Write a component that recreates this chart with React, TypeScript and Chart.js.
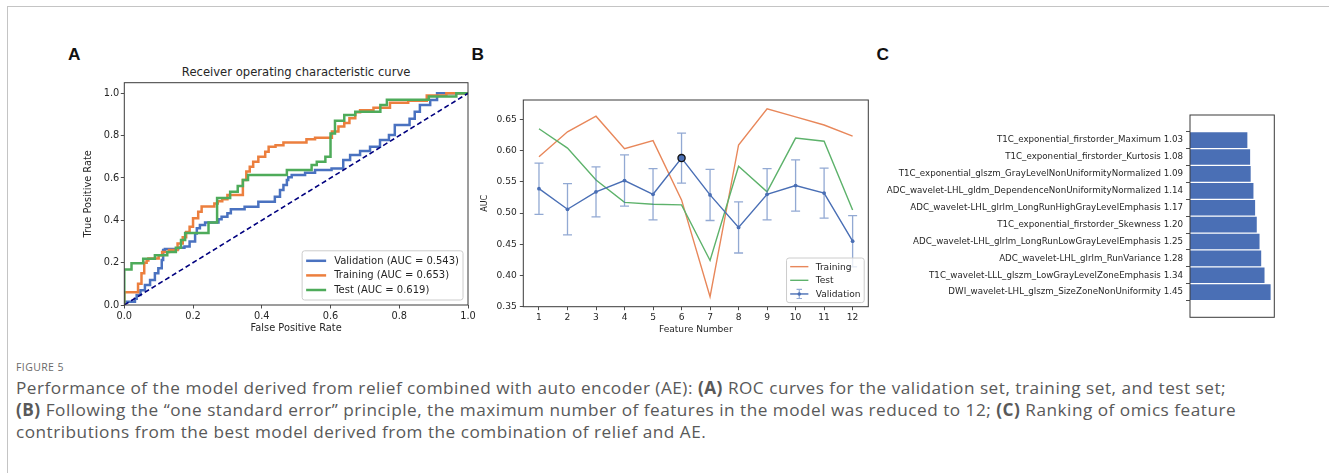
import React, { useEffect, useRef } from "react";
import { Chart, registerables } from "chart.js";
Chart.register(...registerables);

type Pt = [number, number];

// ---------- Panel A: ROC curves (fpr, tpr step points) ----------
const rocValidation: Pt[] = [
  [0, 0], [0.031, 0.015], [0.036, 0.03], [0.047, 0.047], [0.06, 0.07], [0.075, 0.094], [0.089, 0.118],
  [0.099, 0.15], [0.109, 0.173], [0.113, 0.212], [0.118, 0.26], [0.157, 0.265], [0.175, 0.27], [0.19, 0.276],
  [0.206, 0.3], [0.211, 0.338], [0.22, 0.362], [0.235, 0.378], [0.274, 0.39], [0.283, 0.405], [0.3, 0.417],
  [0.31, 0.433], [0.35, 0.452], [0.39, 0.464], [0.438, 0.488], [0.453, 0.511], [0.463, 0.543], [0.473, 0.567],
  [0.477, 0.59], [0.487, 0.603], [0.526, 0.614], [0.555, 0.625], [0.603, 0.638], [0.637, 0.645], [0.657, 0.685],
  [0.686, 0.708], [0.715, 0.727], [0.744, 0.748], [0.77, 0.779], [0.787, 0.803], [0.83, 0.85], [0.845, 0.88],
  [0.86, 0.913], [0.89, 0.945], [0.91, 0.968], [0.94, 1.0], [1, 1],
];
const rocTraining: Pt[] = [
  [0, 0], [0, 0.045], [0.04, 0.06], [0.05, 0.1], [0.058, 0.15], [0.065, 0.2], [0.07, 0.21], [0.1, 0.22],
  [0.11, 0.235], [0.13, 0.25], [0.155, 0.26], [0.17, 0.29], [0.18, 0.32], [0.19, 0.345], [0.2, 0.37],
  [0.215, 0.41], [0.225, 0.44], [0.262, 0.465], [0.272, 0.48], [0.285, 0.49], [0.3, 0.5], [0.345, 0.52],
  [0.355, 0.59], [0.365, 0.63], [0.375, 0.653], [0.39, 0.677], [0.41, 0.7], [0.42, 0.724], [0.44, 0.748],
  [0.463, 0.755], [0.53, 0.767], [0.555, 0.783], [0.604, 0.79], [0.623, 0.82], [0.64, 0.843], [0.655, 0.86],
  [0.672, 0.882], [0.686, 0.91], [0.725, 0.92], [0.773, 0.932], [0.826, 0.955], [0.88, 0.965], [0.937, 0.99],
  [0.975, 1.0], [1, 1],
];
const rocTest: Pt[] = [
  [0, 0], [0, 0.086], [0.021, 0.168], [0.055, 0.197], [0.089, 0.218], [0.125, 0.235], [0.15, 0.25],
  [0.165, 0.27], [0.177, 0.307], [0.245, 0.34], [0.27, 0.39], [0.308, 0.505], [0.33, 0.535], [0.345, 0.562],
  [0.36, 0.59], [0.473, 0.614], [0.545, 0.638], [0.56, 0.661], [0.585, 0.677], [0.6, 0.7], [0.613, 0.81],
  [0.64, 0.87], [0.672, 0.897], [0.745, 0.913], [0.764, 0.945], [0.886, 0.97], [0.966, 0.985], [1, 1],
];
const rocChance: Pt[] = [[0, 0], [1, 1]];
const rocLabels = ["Validation (AUC = 0.543)", "Training (AUC = 0.653)", "Test (AUC = 0.619)"];
const rocTicks = [0, 0.2, 0.4, 0.6, 0.8, 1.0];

// ---------- Panel B: AUC vs feature number ----------
const featureNumbers = [1, 2, 3, 4, 5, 6, 7, 8, 9, 10, 11, 12];
const trainingAuc = [0.59, 0.63, 0.655, 0.603, 0.616, 0.521, 0.366, 0.609, 0.667, 0.654, 0.641, 0.623];
const testAuc = [0.635, 0.604, 0.553, 0.517, 0.514, 0.513, 0.424, 0.575, 0.534, 0.62, 0.615, 0.505];
const validationAuc = [0.539, 0.506, 0.534, 0.552, 0.53, 0.588, 0.529, 0.477, 0.53, 0.544, 0.532, 0.455];
const validationErr = [0.041, 0.041, 0.04, 0.041, 0.041, 0.04, 0.041, 0.041, 0.041, 0.041, 0.04, 0.041];
const bestFeature = 6;
const aucTicks = [0.35, 0.4, 0.45, 0.5, 0.55, 0.6, 0.65];

// ---------- Panel C: feature contributions (top to bottom) ----------
const featureNames = [
  "T1C_exponential_firstorder_Maximum",
  "T1C_exponential_firstorder_Kurtosis",
  "T1C_exponential_glszm_GrayLevelNonUniformityNormalized",
  "ADC_wavelet-LHL_gldm_DependenceNonUniformityNormalized",
  "ADC_wavelet-LHL_glrlm_LongRunHighGrayLevelEmphasis",
  "T1C_exponential_firstorder_Skewness",
  "ADC_wavelet-LHL_glrlm_LongRunLowGrayLevelEmphasis",
  "ADC_wavelet-LHL_glrlm_RunVariance",
  "T1C_wavelet-LLL_glszm_LowGrayLevelZoneEmphasis",
  "DWI_wavelet-LHL_glszm_SizeZoneNonUniformity",
];
const featureScores = [1.03, 1.08, 1.09, 1.14, 1.17, 1.2, 1.25, 1.28, 1.34, 1.45];

// ---------- styling ----------
const FONT = '"DejaVu Sans", sans-serif';
const TXT = "#262626";
const AX = "#3a3a3a";
const A_BLUE = "#4a72c0";
const A_ORANGE = "#ec7f3e";
const A_GREEN = "#4eab5a";
const B_ORANGE = "#e8875a";
const B_GREEN = "#5db26b";
const B_BLUE = "#4a6fb5";

const toXY = (pts: Pt[]) => pts.map(([x, y]) => ({ x, y }));

const framePlugin = {
  id: "frame",
  afterDatasetsDraw(chart: any) {
    const { ctx, chartArea: a } = chart;
    ctx.save();
    ctx.strokeStyle = AX;
    ctx.lineWidth = 1;
    ctx.strokeRect(a.left, a.top, a.right - a.left, a.bottom - a.top);
    ctx.restore();
  },
};

const boxLegend = {
  id: "boxLegend",
  afterDraw(chart: any, _args: any, opts: any) {
    const items = opts.items as any[];
    if (!items) return;
    const fs = opts.fontSize as number;
    const { ctx, chartArea: a } = chart;
    ctx.save();
    ctx.font = `${fs}px ${FONT}`;
    const tw = Math.max(...items.map((i) => ctx.measureText(i.label).width));
    const pad = 0.4 * fs, hl = 2 * fs, gap = 0.8 * fs, row = opts.rowSpacing * fs;
    const w = pad + hl + gap + tw + pad;
    const h = (items.length - 1) * row + 2 * opts.vpad * fs;
    const right = a.right - opts.margin * fs;
    const bottom = a.bottom - opts.margin * fs;
    const left = right - w, top = bottom - h;
    ctx.beginPath();
    if (ctx.roundRect) ctx.roundRect(left, top, w, h, 2.5);
    else ctx.rect(left, top, w, h);
    ctx.fillStyle = "rgba(255,255,255,0.8)";
    ctx.fill();
    ctx.strokeStyle = "#cccccc";
    ctx.lineWidth = 1;
    ctx.stroke();
    items.forEach((it, i) => {
      const cy = top + opts.vpad * fs + i * row;
      const x0 = left + pad, x1 = x0 + hl;
      ctx.strokeStyle = it.color;
      ctx.lineWidth = it.lineWidth;
      ctx.beginPath();
      ctx.moveTo(x0, cy);
      ctx.lineTo(x1, cy);
      ctx.stroke();
      if (it.errorbar) {
        const xc = (x0 + x1) / 2, e = 0.5 * fs, c = 0.3 * fs;
        ctx.strokeStyle = it.barColor;
        ctx.lineWidth = 1.2;
        ctx.beginPath();
        ctx.moveTo(xc, cy - e); ctx.lineTo(xc, cy + e);
        ctx.moveTo(xc - c, cy - e); ctx.lineTo(xc + c, cy - e);
        ctx.moveTo(xc - c, cy + e); ctx.lineTo(xc + c, cy + e);
        ctx.stroke();
        ctx.fillStyle = it.color;
        ctx.beginPath();
        ctx.arc(xc, cy, 1.8, 0, Math.PI * 2);
        ctx.fill();
      }
      ctx.fillStyle = TXT;
      ctx.textBaseline = "middle";
      ctx.textAlign = "left";
      ctx.fillText(it.label, x1 + gap, cy + 0.5);
    });
    ctx.restore();
  },
};

const errorBars = {
  id: "errorBars",
  beforeDatasetDraw(chart: any, args: any, opts: any) {
    if (args.index !== opts.datasetIndex) return;
    const xs = chart.scales.x, ys = chart.scales.y, ctx = chart.ctx;
    const cap = 4.5;
    ctx.save();
    ctx.strokeStyle = opts.color;
    ctx.lineWidth = 1.3;
    featureNumbers.forEach((n, i) => {
      const x = xs.getPixelForValue(n);
      const yT = ys.getPixelForValue(validationAuc[i] + validationErr[i]);
      const yB = ys.getPixelForValue(validationAuc[i] - validationErr[i]);
      ctx.beginPath();
      ctx.moveTo(x, yT); ctx.lineTo(x, yB);
      ctx.moveTo(x - cap, yT); ctx.lineTo(x + cap, yT);
      ctx.moveTo(x - cap, yB); ctx.lineTo(x + cap, yB);
      ctx.stroke();
    });
    ctx.restore();
  },
};

const tickGrid = { display: true, drawOnChartArea: false, drawTicks: true, tickLength: 3.5, color: AX, lineWidth: 0.9 };
const base = {
  responsive: false,
  animation: false,
  devicePixelRatio: 1,
  events: [],
};

function makeA(): any {
  const fs = 9.8;
  const line = (label: string, pts: Pt[], color: string, order: number) => ({
    label, data: toXY(pts), borderColor: color, borderWidth: 2.5, pointRadius: 0, stepped: "after", fill: false, order,
  });
  return {
    type: "line",
    data: {
      datasets: [
        line(rocLabels[0], rocValidation, A_BLUE, 3),
        line(rocLabels[1], rocTraining, A_ORANGE, 2),
        line(rocLabels[2], rocTest, A_GREEN, 1),
        { label: "chance", data: toXY(rocChance), borderColor: "#00007f", borderWidth: 1.6, borderDash: [5, 3], pointRadius: 0, order: 0 },
      ],
    },
    options: {
      ...base,
      layout: { padding: { left: 0, top: 22.7, right: 12, bottom: 0 } },
      plugins: {
        legend: { display: false },
        tooltip: { enabled: false },
        boxLegend: {
          fontSize: 10, rowSpacing: 1.46, vpad: 1.0, margin: 0.5,
          items: [
            { label: rocLabels[0], color: A_BLUE, lineWidth: 2.5 },
            { label: rocLabels[1], color: A_ORANGE, lineWidth: 2.5 },
            { label: rocLabels[2], color: A_GREEN, lineWidth: 2.5 },
          ],
        },
      },
      scales: {
        x: {
          type: "linear", min: 0, max: 1,
          afterBuildTicks: (s: any) => { s.ticks = rocTicks.map((v) => ({ value: v })); },
          afterFit: (s: any) => { s.height = 40; },
          ticks: { callback: (v: number) => v.toFixed(1), font: { family: FONT, size: fs }, color: TXT, padding: 2.5, maxRotation: 0, autoSkip: false },
          grid: tickGrid, border: { display: false },
          title: { display: true, text: "False Positive Rate", font: { family: FONT, size: fs }, color: TXT, padding: { top: 0, bottom: 11 } },
        },
        y: {
          type: "linear", min: 0, max: 1.05,
          afterBuildTicks: (s: any) => { s.ticks = rocTicks.map((v) => ({ value: v })); },
          afterFit: (s: any) => { s.width = 64.3; },
          ticks: { callback: (v: number) => v.toFixed(1), font: { family: FONT, size: fs }, color: TXT, padding: 1.5, autoSkip: false },
          grid: tickGrid, border: { display: false },
          title: { display: true, text: "True Positive Rate", font: { family: FONT, size: fs }, color: TXT, padding: { top: 22.1, bottom: 0 } },
        },
      },
    },
    plugins: [framePlugin, boxLegend],
  };
}

function makeB(): any {
  const fs = 9.1;
  const xy = (vals: number[]) => featureNumbers.map((n, i) => ({ x: n, y: vals[i] }));
  const bi = featureNumbers.indexOf(bestFeature);
  return {
    type: "line",
    data: {
      datasets: [
        { label: "Training", data: xy(trainingAuc), borderColor: B_ORANGE, borderWidth: 1.4, pointRadius: 0, order: 3 },
        { label: "Test", data: xy(testAuc), borderColor: B_GREEN, borderWidth: 1.4, pointRadius: 0, order: 2 },
        { label: "Validation", data: xy(validationAuc), borderColor: B_BLUE, borderWidth: 1.4, pointRadius: 1.9, pointBorderWidth: 0, pointBackgroundColor: B_BLUE, order: 1 },
        { label: "best", data: [{ x: bestFeature, y: validationAuc[bi] }], showLine: false, pointRadius: 3.6, pointBorderWidth: 1.3, pointBorderColor: "#111", pointBackgroundColor: B_BLUE, order: 0 },
      ],
    },
    options: {
      ...base,
      layout: { padding: { left: 0, top: 20, right: 11.7, bottom: 0 } },
      plugins: {
        legend: { display: false },
        tooltip: { enabled: false },
        errorBars: { datasetIndex: 2, color: "rgba(74,111,181,0.6)" },
        boxLegend: {
          fontSize: fs, rowSpacing: 1.5, vpad: 0.95, margin: 0.45,
          items: [
            { label: "Training", color: B_ORANGE, lineWidth: 1.4 },
            { label: "Test", color: B_GREEN, lineWidth: 1.4 },
            { label: "Validation", color: B_BLUE, lineWidth: 1.4, errorbar: true, barColor: "rgba(74,111,181,0.6)" },
          ],
        },
      },
      scales: {
        x: {
          type: "linear", min: 0.45, max: 12.55,
          afterBuildTicks: (s: any) => { s.ticks = featureNumbers.map((v) => ({ value: v })); },
          afterFit: (s: any) => { s.height = 38.3; },
          ticks: { callback: (v: number) => String(v), font: { family: FONT, size: fs }, color: TXT, padding: 1.5, maxRotation: 0, autoSkip: false },
          grid: tickGrid, border: { display: false },
          title: { display: true, text: "Feature Number", font: { family: FONT, size: fs }, color: TXT, padding: { top: 0, bottom: 9.6 } },
        },
        y: {
          type: "linear", min: 0.35, max: 0.681,
          afterBuildTicks: (s: any) => { s.ticks = aucTicks.map((v) => ({ value: v })); },
          afterFit: (s: any) => { s.width = 53.3; },
          ticks: { callback: (v: number) => v.toFixed(2), font: { family: FONT, size: fs }, color: TXT, padding: 3, autoSkip: false },
          grid: tickGrid, border: { display: false },
          title: { display: true, text: "AUC", font: { family: FONT, size: 8 }, color: TXT, padding: { top: 10.2, bottom: 0 } },
        },
      },
    },
    plugins: [framePlugin, errorBars, boxLegend],
  };
}

function makeC(): any {
  const idx = featureNames.map((_, i) => i);
  return {
    type: "bar",
    data: {
      datasets: [
        { label: "score", data: featureScores.map((v, i) => ({ x: v, y: i })), backgroundColor: "#4a6fb5", borderWidth: 0, barThickness: 15 },
      ],
    },
    options: {
      ...base,
      indexAxis: "y",
      layout: { padding: { left: 0, top: 15, right: 15.7, bottom: 12.7 } },
      plugins: { legend: { display: false }, tooltip: { enabled: false } },
      scales: {
        x: { type: "linear", display: false, min: 0, max: 1.5225 },
        y: {
          type: "linear", min: -0.89, max: 9.89, reverse: true,
          afterBuildTicks: (s: any) => { s.ticks = idx.map((v) => ({ value: v })); },
          afterFit: (s: any) => { s.width = 310; },
          ticks: {
            callback: (v: number) => `${featureNames[v]} ${featureScores[v].toFixed(2)}`,
            font: { family: FONT, size: 8.7 }, color: TXT, padding: 3, autoSkip: false,
          },
          grid: { ...tickGrid, tickLength: 4 }, border: { display: false },
        },
      },
    },
    plugins: [framePlugin],
  };
}

function ChartCanvas(props: { make: () => any; left: number; top: number; width: number; height: number }) {
  const ref = useRef<HTMLCanvasElement>(null);
  useEffect(() => {
    const chart = new Chart(ref.current as HTMLCanvasElement, props.make());
    return () => chart.destroy();
  }, []);
  return (
    <canvas
      ref={ref}
      width={props.width}
      height={props.height}
      style={{ position: "absolute", left: props.left, top: props.top, width: props.width, height: props.height }}
    />
  );
}

const letter = (t: string, left: number): React.CSSProperties => ({
  position: "absolute", left, top: 44, fontFamily: '"Liberation Sans", Arial, sans-serif', fontWeight: 700, fontSize: 17.3, lineHeight: "20px", color: "#111",
});

export default function App() {
  const capFont = '"Open Sans", sans-serif';
  return (
    <div style={{ position: "absolute", left: 0, top: 0, width: 1329, height: 473, background: "#fff", overflow: "hidden" }}>
      <div style={{ position: "absolute", left: 7, top: 6, right: 0, height: 1, background: "#c4c4c4" }} />
      <div style={{ position: "absolute", left: 7, top: 6, bottom: 0, width: 1, background: "#c4c4c4" }} />

      <div style={letter("A", 68)}>A</div>
      <div style={letter("B", 471.5)}>B</div>
      <div style={letter("C", 876.5)}>C</div>

      <div style={{ position: "absolute", left: 124.3, width: 343.7, top: 63.5, textAlign: "center", fontFamily: FONT, fontSize: 11.6, lineHeight: "16px", color: TXT, whiteSpace: "nowrap" }}>
        Receiver operating characteristic curve
      </div>

      <ChartCanvas make={makeA} left={60} top={60} width={420} height={285} />
      <ChartCanvas make={makeB} left={470} top={80} width={410} height={265} />
      <ChartCanvas make={makeC} left={880} top={100} width={410} height={230} />

      <div style={{ position: "absolute", left: 16, top: 359, fontFamily: capFont, fontSize: 10.5, lineHeight: "16px", letterSpacing: 0.4, color: "#6a6a6a" }}>
        FIGURE 5
      </div>
      <div style={{ position: "absolute", left: 16, top: 377, fontFamily: capFont, fontSize: 17.2, lineHeight: "22px", letterSpacing: 0.5, color: "#595959", whiteSpace: "nowrap" }}>
        Performance of the model derived from relief combined with auto encoder (AE): <b>(A)</b> ROC curves for the validation set, training set, and test set;
        <br />
        <b>(B)</b> Following the “one standard error” principle, the maximum number of features in the model was reduced to 12; <b>(C)</b> Ranking of omics feature
        <br />
        contributions from the best model derived from the combination of relief and AE.
      </div>
    </div>
  );
}
